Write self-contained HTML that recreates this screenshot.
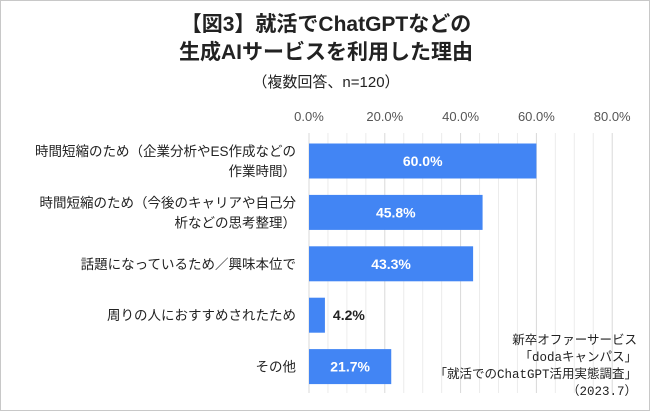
<!DOCTYPE html>
<html><head><meta charset="utf-8"><style>
body{margin:0;background:#fff;}
#c{position:relative;width:648px;height:409px;border:1px solid #c8c8c8;overflow:hidden;font-family:"Liberation Sans","Noto Sans CJK JP",sans-serif;}
.t{position:absolute;left:0;width:650px;text-align:center;color:#222;}
</style></head><body>
<div id="c">
<div class="t" style="top:10px;font-size:21px;font-weight:bold;line-height:28px;">【図3】就活でChatGPTなどの<br>生成AIサービスを利用した理由</div>
<div class="t" style="top:70px;font-size:15px;">（複数回答、n=120）</div>
<svg id="s" width="650" height="411" style="position:absolute;left:0;top:0"></svg>
<div style="position:absolute;right:12px;top:332px;text-align:right;font-size:12.5px;line-height:17px;color:#222;font-family:'Liberation Mono','Noto Sans CJK JP',monospace;">新卒オファーサービス<br>「dodaキャンパス」<br>「就活でのChatGPT活用実態調査」<br>（2023.7）</div>
</div>
<script>
const categories=["時間短縮のため（企業分析やES作成などの|作業時間）","時間短縮のため（今後のキャリアや自己分|析などの思考整理）","話題になっているため／興味本位で","周りの人におすすめされたため","その他"];
const values=[60.0,45.8,43.3,4.2,21.7];
const ticks=[0,20,40,60,80];
const svg=document.getElementById('s');
const NS='http://www.w3.org/2000/svg';
const x0=308,scale=3.79,plotTop=132,plotBot=392,band=51.4;
const X=v=>x0+v*scale;
function mk(t,a){const e=document.createElementNS(NS,t);for(const k in a)e.setAttribute(k,a[k]);svg.appendChild(e);return e;}
for(let v=0;v<=80;v+=5){const l=mk('line',{x1:X(v),x2:X(v),y1:plotTop,y2:plotBot,stroke:v%20?'#ececec':'#d9d9d9','stroke-width':1});

}
ticks.forEach(v=>{const t=mk('text',{x:X(v),y:120,'text-anchor':'middle','font-size':13,fill:'#555','font-family':'Liberation Sans, sans-serif'});t.textContent=v.toFixed(1)+'%';

});
categories.forEach((c,i)=>{const cy=160+i*band;
const r=mk('rect',{x:X(0),y:cy-17.5,width:X(values[i])-X(0),height:35,fill:'#4285f4'});


const big=values[i]>10;
const t=mk('text',{x:big?(X(0)+X(values[i]))/2:X(values[i])+8,y:cy+5,'text-anchor':big?'middle':'start','font-size':14,'font-weight':'bold',fill:big?'#fff':'#222','font-family':'Liberation Sans, sans-serif'});
t.textContent=values[i].toFixed(1)+'%';


const lines=c.split('|');
lines.forEach((ln,j)=>{const y=cy+5+(j-(lines.length-1)/2)*20;
const tt=mk('text',{x:295,y:y,'text-anchor':'end','font-size':13.5,fill:'#222','font-family':'Liberation Sans, Noto Sans CJK JP, sans-serif'});
tt.textContent=ln;

});
});
</script>
</body></html>
